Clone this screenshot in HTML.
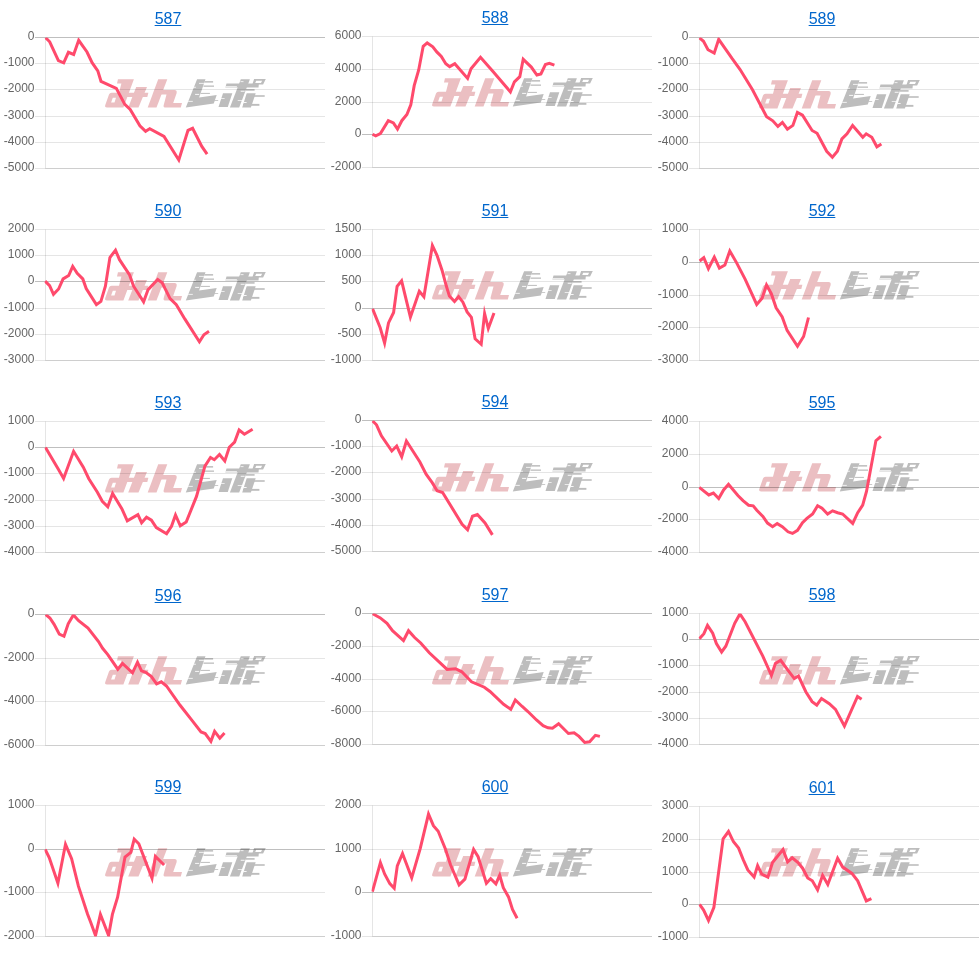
<!DOCTYPE html>
<html><head><meta charset="utf-8"><style>
html,body{margin:0;padding:0;background:#fff;}
body{width:979px;height:958px;position:relative;overflow:hidden;font-family:"Liberation Sans",sans-serif;}
svg text{font-family:"Liberation Sans",sans-serif;font-size:12px;fill:#666;}
.t{will-change:transform;position:absolute;width:120px;text-align:center;font-size:16px;line-height:19px;}
.t a{color:#0066cc;text-decoration:underline;}
</style></head><body>
<svg width="979" height="958" viewBox="0 0 979 958" style="position:absolute;left:0;top:0;will-change:transform"><defs><g id="wm" transform="translate(103,77)">
<g fill="#ebbfc2">
<path d="M14.95,2.2 L30.9,2.2 L20.4,30.4 L4.0,30.4 Q1.6,30.4 2.2,28.2 L6.0,17.5 Q6.7,15.7 8.6,15.7 L16.0,15.7 L18.4,6.6 L14.0,6.6 Z M9.8,20.8 L13.0,20.8 L11.5,25.5 L8.1,25.5 Z" fill-rule="evenodd"/>
<path d="M22.0,15.7 L45.4,15.7 L44.3,19.9 L20.6,19.9 Z"/>
<path d="M33.2,10.05 L44.0,10.05 L35.5,30.4 L25.2,30.4 Z"/>
<path d="M55.2,2.2 L64.3,2.2 L53.5,30.4 L44.7,30.4 Z"/>
<path d="M58.1,13.0 L71.4,13.0 Q74.3,13.0 73.6,16.2 L70.2,26.0 L79.0,26.0 L77.8,30.4 L62.6,30.4 Q60.2,30.4 60.6,28.4 L63.5,17.4 L56.4,17.4 Z"/>
</g>
<g fill="#bdbdbd">
<path d="M94.1,2.2 L102.5,2.2 L96.1,20.55 L113.7,18.1 L110.8,26.4 L82.8,30.4 Z"/>
<rect x="101.5" y="4.1" width="8.6" height="1.5"/>
<rect x="100.5" y="8.5" width="10.5" height="1.3"/>
<rect x="97.6" y="15.9" width="9.3" height="1.0"/>
<rect x="111.3" y="23.0" width="3.9" height="0.8"/>
<path d="M137.8,2.25 L146.9,2.25 L136.2,30.4 L126.9,30.4 Z"/>
<path d="M123.5,6.5 L155.9,6.5 L155.5,10.5 L122.4,10.5 Z"/>
<path d="M120.0,16.3 L129.3,16.3 L124.8,29.9 L115.5,29.9 Z"/>
<path d="M143.7,16.3 L152.7,16.3 L147.9,30.4 L139.2,30.4 Z"/>
<rect x="143.7" y="18.2" width="18" height="1.6"/>
<path d="M151.1,2.0 L162.8,2.0 L160.1,7.6 L149.3,7.6 Z M153.2,3.8 L159.1,3.8 L158.0,5.97 L152.2,5.97 Z" fill-rule="evenodd"/>
<rect x="142.6" y="12.1" width="9" height="1.6"/>
<rect x="140.0" y="26.9" width="16.4" height="1.9"/>
</g>
<g fill="#fff">
<rect x="90.3" y="9.8" width="2.6" height="0.8"/>
<rect x="96.0" y="5.9" width="4.9" height="0.8"/>
<rect x="92.1" y="16.9" width="4.1" height="0.9"/>
<rect x="85.2" y="23.9" width="4.6" height="0.8"/>
<rect x="122.4" y="9.3" width="11.5" height="0.9"/>
<rect x="137.5" y="4.3" width="3.0" height="0.8"/>
<rect x="137.7" y="13.8" width="3.9" height="0.9"/>
<rect x="118.1" y="21.2" width="3.5" height="0.7"/>
<rect x="134.7" y="23.0" width="4.3" height="0.7"/>
<rect x="140.5" y="25.0" width="3.1" height="0.9"/>
</g>
</g>
</defs><use href="#wm" x="0" y="0"/><line x1="35" y1="63.5" x2="325" y2="63.5" stroke="rgba(0,0,0,0.1)" stroke-width="1"/><line x1="35" y1="89.5" x2="325" y2="89.5" stroke="rgba(0,0,0,0.1)" stroke-width="1"/><line x1="35" y1="116.5" x2="325" y2="116.5" stroke="rgba(0,0,0,0.1)" stroke-width="1"/><line x1="35" y1="142.5" x2="325" y2="142.5" stroke="rgba(0,0,0,0.1)" stroke-width="1"/><line x1="35" y1="168.5" x2="325" y2="168.5" stroke="rgba(0,0,0,0.1)" stroke-width="1"/><line x1="45.5" y1="37.5" x2="45.5" y2="168.5" stroke="rgba(0,0,0,0.1)" stroke-width="1"/><line x1="45.5" y1="168.5" x2="325" y2="168.5" stroke="rgba(0,0,0,0.1)" stroke-width="1"/><line x1="35" y1="37.5" x2="325" y2="37.5" stroke="rgba(0,0,0,0.25)" stroke-width="1"/><text x="34.5" y="40.0" text-anchor="end">0</text><text x="34.5" y="66.0" text-anchor="end">-1000</text><text x="34.5" y="92.0" text-anchor="end">-2000</text><text x="34.5" y="119.0" text-anchor="end">-3000</text><text x="34.5" y="145.0" text-anchor="end">-4000</text><text x="34.5" y="171.0" text-anchor="end">-5000</text><clipPath id="c587"><rect x="44.5" y="37.55" width="280.5" height="131.0"/></clipPath><polyline clip-path="url(#c587)" points="45.6,37.7 49.7,41.8 58.4,60.7 63.7,62.9 68.4,52.3 73.7,54.5 78.7,40.3 87.0,52.0 92.1,62.7 97.8,70.9 101.0,81.3 116.3,88.4 124.8,104.4 130.2,109.4 139.9,125.7 145.6,131.3 149.7,128.8 164.0,136.5 178.8,160.0 188.0,130.3 192.6,128.3 201.8,146.4 207.1,154.1" fill="none" stroke="#ff4a6c" stroke-width="3" stroke-linejoin="miter" stroke-miterlimit="10" stroke-linecap="butt"/><use href="#wm" x="327" y="-1"/><line x1="362" y1="36.5" x2="652" y2="36.5" stroke="rgba(0,0,0,0.1)" stroke-width="1"/><line x1="362" y1="69.5" x2="652" y2="69.5" stroke="rgba(0,0,0,0.1)" stroke-width="1"/><line x1="362" y1="102.5" x2="652" y2="102.5" stroke="rgba(0,0,0,0.1)" stroke-width="1"/><line x1="362" y1="167.5" x2="652" y2="167.5" stroke="rgba(0,0,0,0.1)" stroke-width="1"/><line x1="372.5" y1="36.5" x2="372.5" y2="167.5" stroke="rgba(0,0,0,0.1)" stroke-width="1"/><line x1="372.5" y1="167.5" x2="652" y2="167.5" stroke="rgba(0,0,0,0.1)" stroke-width="1"/><text x="361.5" y="39.0" text-anchor="end">6000</text><text x="361.5" y="72.0" text-anchor="end">4000</text><text x="361.5" y="105.0" text-anchor="end">2000</text><line x1="362" y1="134.5" x2="652" y2="134.5" stroke="rgba(0,0,0,0.25)" stroke-width="1"/><text x="361.5" y="137.0" text-anchor="end">0</text><text x="361.5" y="170.0" text-anchor="end">-2000</text><clipPath id="c588"><rect x="371.5" y="36.55" width="280.5" height="131.0"/></clipPath><polyline clip-path="url(#c588)" points="372.5,134.2 375.7,135.9 380.4,133.6 388.3,120.7 393.4,122.9 397.5,129.1 401.8,120.7 406.9,114.5 410.8,104.9 414.2,85.7 418.7,70.0 423.2,46.3 427.2,42.9 432.8,46.8 436.8,51.9 441.3,56.4 445.8,63.7 449.7,66.6 454.8,63.7 467.6,78.4 471.0,68.8 480.5,57.2 493.0,71.5 510.4,91.9 514.4,81.8 519.8,76.7 523.2,59.3 531.3,67.1 536.9,75.0 540.9,73.9 545.4,64.5 549.3,63.4 554.4,65.2" fill="none" stroke="#ff4a6c" stroke-width="3" stroke-linejoin="miter" stroke-miterlimit="10" stroke-linecap="butt"/><use href="#wm" x="654" y="1"/><line x1="689" y1="63.5" x2="979" y2="63.5" stroke="rgba(0,0,0,0.1)" stroke-width="1"/><line x1="689" y1="89.5" x2="979" y2="89.5" stroke="rgba(0,0,0,0.1)" stroke-width="1"/><line x1="689" y1="116.5" x2="979" y2="116.5" stroke="rgba(0,0,0,0.1)" stroke-width="1"/><line x1="689" y1="142.5" x2="979" y2="142.5" stroke="rgba(0,0,0,0.1)" stroke-width="1"/><line x1="689" y1="168.5" x2="979" y2="168.5" stroke="rgba(0,0,0,0.1)" stroke-width="1"/><line x1="699.5" y1="37.5" x2="699.5" y2="168.5" stroke="rgba(0,0,0,0.1)" stroke-width="1"/><line x1="699.5" y1="168.5" x2="979" y2="168.5" stroke="rgba(0,0,0,0.1)" stroke-width="1"/><line x1="689" y1="37.5" x2="979" y2="37.5" stroke="rgba(0,0,0,0.25)" stroke-width="1"/><text x="688.5" y="40.0" text-anchor="end">0</text><text x="688.5" y="66.0" text-anchor="end">-1000</text><text x="688.5" y="92.0" text-anchor="end">-2000</text><text x="688.5" y="119.0" text-anchor="end">-3000</text><text x="688.5" y="145.0" text-anchor="end">-4000</text><text x="688.5" y="171.0" text-anchor="end">-5000</text><clipPath id="c589"><rect x="698.5" y="37.55" width="280.5" height="131.0"/></clipPath><polyline clip-path="url(#c589)" points="699.5,37.9 703.5,41.3 708.0,49.7 714.2,53.1 718.7,39.3 732.2,58.7 740.1,69.5 752.5,89.8 766.6,116.8 772.8,120.8 777.9,126.4 782.4,122.4 787.4,129.2 792.9,125.4 797.4,112.4 802.5,115.2 812.1,130.5 817.1,133.3 826.7,151.3 832.4,157.2 837.4,151.3 841.9,138.9 847.0,133.8 852.6,125.4 862.8,137.2 866.2,133.8 871.8,137.2 876.9,146.8 881.4,144.0" fill="none" stroke="#ff4a6c" stroke-width="3" stroke-linejoin="miter" stroke-miterlimit="10" stroke-linecap="butt"/><use href="#wm" x="0" y="193"/><line x1="35" y1="229.5" x2="325" y2="229.5" stroke="rgba(0,0,0,0.1)" stroke-width="1"/><line x1="35" y1="255.5" x2="325" y2="255.5" stroke="rgba(0,0,0,0.1)" stroke-width="1"/><line x1="35" y1="308.5" x2="325" y2="308.5" stroke="rgba(0,0,0,0.1)" stroke-width="1"/><line x1="35" y1="334.5" x2="325" y2="334.5" stroke="rgba(0,0,0,0.1)" stroke-width="1"/><line x1="35" y1="360.5" x2="325" y2="360.5" stroke="rgba(0,0,0,0.1)" stroke-width="1"/><line x1="45.5" y1="229.5" x2="45.5" y2="360.5" stroke="rgba(0,0,0,0.1)" stroke-width="1"/><line x1="45.5" y1="360.5" x2="325" y2="360.5" stroke="rgba(0,0,0,0.1)" stroke-width="1"/><text x="34.5" y="232.0" text-anchor="end">2000</text><text x="34.5" y="258.0" text-anchor="end">1000</text><line x1="35" y1="281.5" x2="325" y2="281.5" stroke="rgba(0,0,0,0.25)" stroke-width="1"/><text x="34.5" y="284.0" text-anchor="end">0</text><text x="34.5" y="311.0" text-anchor="end">-1000</text><text x="34.5" y="337.0" text-anchor="end">-2000</text><text x="34.5" y="363.0" text-anchor="end">-3000</text><clipPath id="c590"><rect x="44.5" y="229.55" width="280.5" height="131.0"/></clipPath><polyline clip-path="url(#c590)" points="45.1,281.1 49.6,285.7 53.5,294.4 58.6,289.0 63.1,278.9 68.7,275.5 72.7,266.3 77.2,273.3 82.8,278.9 86.2,288.5 96.4,304.6 100.9,301.4 105.4,286.2 109.9,257.5 115.5,250.2 119.5,259.7 129.6,275.0 133.6,286.2 143.6,301.8 148.1,289.6 157.7,279.5 162.2,282.8 170.1,298.6 176.3,304.8 184.8,318.9 199.4,341.8 203.9,334.7 209.0,331.3" fill="none" stroke="#ff4a6c" stroke-width="3" stroke-linejoin="miter" stroke-miterlimit="10" stroke-linecap="butt"/><use href="#wm" x="327" y="192"/><line x1="362" y1="229.5" x2="652" y2="229.5" stroke="rgba(0,0,0,0.1)" stroke-width="1"/><line x1="362" y1="255.5" x2="652" y2="255.5" stroke="rgba(0,0,0,0.1)" stroke-width="1"/><line x1="362" y1="281.5" x2="652" y2="281.5" stroke="rgba(0,0,0,0.1)" stroke-width="1"/><line x1="362" y1="334.5" x2="652" y2="334.5" stroke="rgba(0,0,0,0.1)" stroke-width="1"/><line x1="362" y1="360.5" x2="652" y2="360.5" stroke="rgba(0,0,0,0.1)" stroke-width="1"/><line x1="372.5" y1="229.5" x2="372.5" y2="360.5" stroke="rgba(0,0,0,0.1)" stroke-width="1"/><line x1="372.5" y1="360.5" x2="652" y2="360.5" stroke="rgba(0,0,0,0.1)" stroke-width="1"/><text x="361.5" y="232.0" text-anchor="end">1500</text><text x="361.5" y="258.0" text-anchor="end">1000</text><text x="361.5" y="284.0" text-anchor="end">500</text><line x1="362" y1="308.5" x2="652" y2="308.5" stroke="rgba(0,0,0,0.25)" stroke-width="1"/><text x="361.5" y="311.0" text-anchor="end">0</text><text x="361.5" y="337.0" text-anchor="end">-500</text><text x="361.5" y="363.0" text-anchor="end">-1000</text><clipPath id="c591"><rect x="371.5" y="229.55" width="280.5" height="131.0"/></clipPath><polyline clip-path="url(#c591)" points="372.6,308.9 380.2,327.8 384.6,343.1 388.5,322.9 393.6,312.5 397.1,286.3 401.6,280.8 410.4,317.2 419.3,291.2 423.9,296.7 432.4,245.5 437.1,255.5 442.1,270.4 446.4,286.3 449.4,296.1 454.5,301.5 458.6,296.7 462.9,302.2 467.1,311.9 471.4,317.4 475.1,338.8 481.2,344.3 484.6,313.5 488.3,328.5 494.0,313.1" fill="none" stroke="#ff4a6c" stroke-width="3" stroke-linejoin="miter" stroke-miterlimit="10" stroke-linecap="butt"/><use href="#wm" x="654" y="192"/><line x1="689" y1="229.5" x2="979" y2="229.5" stroke="rgba(0,0,0,0.1)" stroke-width="1"/><line x1="689" y1="295.5" x2="979" y2="295.5" stroke="rgba(0,0,0,0.1)" stroke-width="1"/><line x1="689" y1="327.5" x2="979" y2="327.5" stroke="rgba(0,0,0,0.1)" stroke-width="1"/><line x1="689" y1="360.5" x2="979" y2="360.5" stroke="rgba(0,0,0,0.1)" stroke-width="1"/><line x1="699.5" y1="229.5" x2="699.5" y2="360.5" stroke="rgba(0,0,0,0.1)" stroke-width="1"/><line x1="699.5" y1="360.5" x2="979" y2="360.5" stroke="rgba(0,0,0,0.1)" stroke-width="1"/><text x="688.5" y="232.0" text-anchor="end">1000</text><line x1="689" y1="262.5" x2="979" y2="262.5" stroke="rgba(0,0,0,0.25)" stroke-width="1"/><text x="688.5" y="265.0" text-anchor="end">0</text><text x="688.5" y="298.0" text-anchor="end">-1000</text><text x="688.5" y="330.0" text-anchor="end">-2000</text><text x="688.5" y="363.0" text-anchor="end">-3000</text><clipPath id="c592"><rect x="698.5" y="229.55" width="280.5" height="131.0"/></clipPath><polyline clip-path="url(#c592)" points="699.6,261.0 703.8,257.7 708.4,268.7 714.3,257.1 719.4,268.1 724.9,265.0 729.8,251.0 736.5,262.6 745.1,279.1 756.7,304.4 762.1,298.2 766.5,284.9 771.3,293.7 776.1,307.8 782.2,316.9 787.1,330.4 797.5,346.2 803.6,336.5 808.5,317.5" fill="none" stroke="#ff4a6c" stroke-width="3" stroke-linejoin="miter" stroke-miterlimit="10" stroke-linecap="butt"/><use href="#wm" x="0" y="385"/><line x1="35" y1="421.5" x2="325" y2="421.5" stroke="rgba(0,0,0,0.1)" stroke-width="1"/><line x1="35" y1="473.5" x2="325" y2="473.5" stroke="rgba(0,0,0,0.1)" stroke-width="1"/><line x1="35" y1="500.5" x2="325" y2="500.5" stroke="rgba(0,0,0,0.1)" stroke-width="1"/><line x1="35" y1="526.5" x2="325" y2="526.5" stroke="rgba(0,0,0,0.1)" stroke-width="1"/><line x1="35" y1="552.5" x2="325" y2="552.5" stroke="rgba(0,0,0,0.1)" stroke-width="1"/><line x1="45.5" y1="421.5" x2="45.5" y2="552.5" stroke="rgba(0,0,0,0.1)" stroke-width="1"/><line x1="45.5" y1="552.5" x2="325" y2="552.5" stroke="rgba(0,0,0,0.1)" stroke-width="1"/><text x="34.5" y="424.0" text-anchor="end">1000</text><line x1="35" y1="447.5" x2="325" y2="447.5" stroke="rgba(0,0,0,0.25)" stroke-width="1"/><text x="34.5" y="450.0" text-anchor="end">0</text><text x="34.5" y="476.0" text-anchor="end">-1000</text><text x="34.5" y="503.0" text-anchor="end">-2000</text><text x="34.5" y="529.0" text-anchor="end">-3000</text><text x="34.5" y="555.0" text-anchor="end">-4000</text><clipPath id="c593"><rect x="44.5" y="421.55" width="280.5" height="131.0"/></clipPath><polyline clip-path="url(#c593)" points="45.5,447.6 58.8,470.0 63.6,478.5 73.6,451.3 83.3,467.1 88.8,478.7 97.4,492.2 102.3,501.3 107.8,506.8 112.6,493.4 121.8,508.6 127.3,520.8 137.9,514.7 141.6,522.7 146.5,517.2 151.4,520.2 156.3,527.6 166.6,533.7 171.5,526.3 175.5,515.0 180.3,525.8 186.2,522.1 196.5,496.4 204.9,466.1 210.5,457.5 214.3,459.7 219.5,454.5 224.8,460.9 229.3,447.3 234.6,442.1 239.1,430.0 244.4,434.2 252.6,429.3" fill="none" stroke="#ff4a6c" stroke-width="3" stroke-linejoin="miter" stroke-miterlimit="10" stroke-linecap="butt"/><use href="#wm" x="327" y="384"/><line x1="362" y1="446.5" x2="652" y2="446.5" stroke="rgba(0,0,0,0.1)" stroke-width="1"/><line x1="362" y1="472.5" x2="652" y2="472.5" stroke="rgba(0,0,0,0.1)" stroke-width="1"/><line x1="362" y1="499.5" x2="652" y2="499.5" stroke="rgba(0,0,0,0.1)" stroke-width="1"/><line x1="362" y1="525.5" x2="652" y2="525.5" stroke="rgba(0,0,0,0.1)" stroke-width="1"/><line x1="362" y1="551.5" x2="652" y2="551.5" stroke="rgba(0,0,0,0.1)" stroke-width="1"/><line x1="372.5" y1="420.5" x2="372.5" y2="551.5" stroke="rgba(0,0,0,0.1)" stroke-width="1"/><line x1="372.5" y1="551.5" x2="652" y2="551.5" stroke="rgba(0,0,0,0.1)" stroke-width="1"/><line x1="362" y1="420.5" x2="652" y2="420.5" stroke="rgba(0,0,0,0.25)" stroke-width="1"/><text x="361.5" y="423.0" text-anchor="end">0</text><text x="361.5" y="449.0" text-anchor="end">-1000</text><text x="361.5" y="475.0" text-anchor="end">-2000</text><text x="361.5" y="502.0" text-anchor="end">-3000</text><text x="361.5" y="528.0" text-anchor="end">-4000</text><text x="361.5" y="554.0" text-anchor="end">-5000</text><clipPath id="c594"><rect x="371.5" y="420.55" width="280.5" height="131.0"/></clipPath><polyline clip-path="url(#c594)" points="372.6,421.0 376.5,424.8 381.4,435.8 391.8,451.0 396.7,446.0 401.7,456.7 406.4,441.0 419.9,462.0 426.1,474.2 432.2,482.7 437.1,490.7 442.6,492.5 462.1,524.2 467.6,529.7 472.5,516.3 477.4,514.6 485.0,523.0 492.4,534.9" fill="none" stroke="#ff4a6c" stroke-width="3" stroke-linejoin="miter" stroke-miterlimit="10" stroke-linecap="butt"/><use href="#wm" x="654" y="384"/><line x1="689" y1="421.5" x2="979" y2="421.5" stroke="rgba(0,0,0,0.1)" stroke-width="1"/><line x1="689" y1="454.5" x2="979" y2="454.5" stroke="rgba(0,0,0,0.1)" stroke-width="1"/><line x1="689" y1="519.5" x2="979" y2="519.5" stroke="rgba(0,0,0,0.1)" stroke-width="1"/><line x1="689" y1="552.5" x2="979" y2="552.5" stroke="rgba(0,0,0,0.1)" stroke-width="1"/><line x1="699.5" y1="421.5" x2="699.5" y2="552.5" stroke="rgba(0,0,0,0.1)" stroke-width="1"/><line x1="699.5" y1="552.5" x2="979" y2="552.5" stroke="rgba(0,0,0,0.1)" stroke-width="1"/><text x="688.5" y="424.0" text-anchor="end">4000</text><text x="688.5" y="457.0" text-anchor="end">2000</text><line x1="689" y1="487.5" x2="979" y2="487.5" stroke="rgba(0,0,0,0.25)" stroke-width="1"/><text x="688.5" y="490.0" text-anchor="end">0</text><text x="688.5" y="522.0" text-anchor="end">-2000</text><text x="688.5" y="555.0" text-anchor="end">-4000</text><clipPath id="c595"><rect x="698.5" y="421.55" width="280.5" height="131.0"/></clipPath><polyline clip-path="url(#c595)" points="699.3,487.4 708.8,495.0 713.4,493.0 718.7,498.6 723.6,489.9 728.5,484.3 737.9,495.5 743.0,500.6 748.6,505.2 753.2,505.8 756.8,510.3 762.9,516.5 767.5,523.1 772.6,526.7 777.2,523.6 782.3,526.7 788.0,531.8 792.5,533.4 797.5,530.3 802.5,522.7 806.9,518.4 812.6,514.0 817.6,505.8 822.0,508.3 827.6,514.0 832.6,510.8 837.6,512.7 842.6,514.0 852.7,523.4 857.7,512.7 862.7,505.2 866.5,491.4 875.9,440.7 880.9,436.3" fill="none" stroke="#ff4a6c" stroke-width="3" stroke-linejoin="miter" stroke-miterlimit="10" stroke-linecap="butt"/><use href="#wm" x="0" y="577"/><line x1="35" y1="658.5" x2="325" y2="658.5" stroke="rgba(0,0,0,0.1)" stroke-width="1"/><line x1="35" y1="701.5" x2="325" y2="701.5" stroke="rgba(0,0,0,0.1)" stroke-width="1"/><line x1="35" y1="745.5" x2="325" y2="745.5" stroke="rgba(0,0,0,0.1)" stroke-width="1"/><line x1="45.5" y1="614.5" x2="45.5" y2="745.5" stroke="rgba(0,0,0,0.1)" stroke-width="1"/><line x1="45.5" y1="745.5" x2="325" y2="745.5" stroke="rgba(0,0,0,0.1)" stroke-width="1"/><line x1="35" y1="614.5" x2="325" y2="614.5" stroke="rgba(0,0,0,0.25)" stroke-width="1"/><text x="34.5" y="617.0" text-anchor="end">0</text><text x="34.5" y="661.0" text-anchor="end">-2000</text><text x="34.5" y="704.0" text-anchor="end">-4000</text><text x="34.5" y="748.0" text-anchor="end">-6000</text><clipPath id="c596"><rect x="44.5" y="614.55" width="280.5" height="131.0"/></clipPath><polyline clip-path="url(#c596)" points="45.7,614.6 49.9,618.0 54.1,624.3 59.3,634.2 64.0,636.3 68.2,623.8 73.4,614.9 78.6,620.7 88.0,628.0 98.5,641.5 102.6,648.3 107.8,654.6 117.8,669.2 122.5,663.5 132.5,672.8 137.5,662.2 141.5,670.9 145.7,672.4 151.4,676.6 156.6,683.9 161.3,681.8 166.5,686.0 180.1,705.3 191.6,719.9 201.0,731.9 205.2,733.5 210.9,741.3 214.6,731.4 219.8,738.2 224.5,733.0" fill="none" stroke="#ff4a6c" stroke-width="3" stroke-linejoin="miter" stroke-miterlimit="10" stroke-linecap="butt"/><use href="#wm" x="327" y="577"/><line x1="362" y1="646.5" x2="652" y2="646.5" stroke="rgba(0,0,0,0.1)" stroke-width="1"/><line x1="362" y1="679.5" x2="652" y2="679.5" stroke="rgba(0,0,0,0.1)" stroke-width="1"/><line x1="362" y1="711.5" x2="652" y2="711.5" stroke="rgba(0,0,0,0.1)" stroke-width="1"/><line x1="362" y1="744.5" x2="652" y2="744.5" stroke="rgba(0,0,0,0.1)" stroke-width="1"/><line x1="372.5" y1="613.5" x2="372.5" y2="744.5" stroke="rgba(0,0,0,0.1)" stroke-width="1"/><line x1="372.5" y1="744.5" x2="652" y2="744.5" stroke="rgba(0,0,0,0.1)" stroke-width="1"/><line x1="362" y1="613.5" x2="652" y2="613.5" stroke="rgba(0,0,0,0.25)" stroke-width="1"/><text x="361.5" y="616.0" text-anchor="end">0</text><text x="361.5" y="649.0" text-anchor="end">-2000</text><text x="361.5" y="682.0" text-anchor="end">-4000</text><text x="361.5" y="714.0" text-anchor="end">-6000</text><text x="361.5" y="747.0" text-anchor="end">-8000</text><clipPath id="c597"><rect x="371.5" y="613.55" width="280.5" height="131.0"/></clipPath><polyline clip-path="url(#c597)" points="372.7,613.8 380.3,617.9 387.0,623.4 392.5,630.7 403.5,640.5 408.5,630.7 414.6,637.5 420.7,643.0 429.3,652.8 447.1,669.4 455.6,668.7 461.8,671.8 471.5,681.8 484.3,687.2 490.0,691.5 503.6,704.3 510.8,709.3 515.3,700.0 522.2,706.5 527.9,711.5 536.5,720.0 543.1,725.7 548.0,727.8 552.5,728.2 558.6,723.7 568.4,733.5 574.1,732.7 579.0,736.4 584.7,742.5 589.6,741.8 595.4,735.3 599.9,736.4" fill="none" stroke="#ff4a6c" stroke-width="3" stroke-linejoin="miter" stroke-miterlimit="10" stroke-linecap="butt"/><use href="#wm" x="654" y="577"/><line x1="689" y1="613.5" x2="979" y2="613.5" stroke="rgba(0,0,0,0.1)" stroke-width="1"/><line x1="689" y1="665.5" x2="979" y2="665.5" stroke="rgba(0,0,0,0.1)" stroke-width="1"/><line x1="689" y1="692.5" x2="979" y2="692.5" stroke="rgba(0,0,0,0.1)" stroke-width="1"/><line x1="689" y1="718.5" x2="979" y2="718.5" stroke="rgba(0,0,0,0.1)" stroke-width="1"/><line x1="689" y1="744.5" x2="979" y2="744.5" stroke="rgba(0,0,0,0.1)" stroke-width="1"/><line x1="699.5" y1="613.5" x2="699.5" y2="744.5" stroke="rgba(0,0,0,0.1)" stroke-width="1"/><line x1="699.5" y1="744.5" x2="979" y2="744.5" stroke="rgba(0,0,0,0.1)" stroke-width="1"/><text x="688.5" y="616.0" text-anchor="end">1000</text><line x1="689" y1="639.5" x2="979" y2="639.5" stroke="rgba(0,0,0,0.25)" stroke-width="1"/><text x="688.5" y="642.0" text-anchor="end">0</text><text x="688.5" y="668.0" text-anchor="end">-1000</text><text x="688.5" y="695.0" text-anchor="end">-2000</text><text x="688.5" y="721.0" text-anchor="end">-3000</text><text x="688.5" y="747.0" text-anchor="end">-4000</text><clipPath id="c598"><rect x="698.5" y="613.55" width="280.5" height="131.0"/></clipPath><polyline clip-path="url(#c598)" points="699.4,638.8 703.9,633.7 707.5,625.4 712.7,633.2 716.4,643.6 721.6,652.0 725.8,646.2 734.7,623.3 739.9,613.9 745.1,621.7 762.8,656.1 771.4,675.4 775.4,663.5 780.7,660.3 787.5,669.7 794.3,678.6 798.5,676.0 805.8,691.7 812.1,701.6 816.8,705.2 821.5,698.5 829.3,703.7 835.5,709.4 844.4,726.0 857.5,696.4 861.6,699.2" fill="none" stroke="#ff4a6c" stroke-width="3" stroke-linejoin="miter" stroke-miterlimit="10" stroke-linecap="butt"/><use href="#wm" x="0" y="769"/><line x1="35" y1="805.5" x2="325" y2="805.5" stroke="rgba(0,0,0,0.1)" stroke-width="1"/><line x1="35" y1="892.5" x2="325" y2="892.5" stroke="rgba(0,0,0,0.1)" stroke-width="1"/><line x1="35" y1="936.5" x2="325" y2="936.5" stroke="rgba(0,0,0,0.1)" stroke-width="1"/><line x1="45.5" y1="805.5" x2="45.5" y2="936.5" stroke="rgba(0,0,0,0.1)" stroke-width="1"/><line x1="45.5" y1="936.5" x2="325" y2="936.5" stroke="rgba(0,0,0,0.1)" stroke-width="1"/><text x="34.5" y="808.0" text-anchor="end">1000</text><line x1="35" y1="849.5" x2="325" y2="849.5" stroke="rgba(0,0,0,0.25)" stroke-width="1"/><text x="34.5" y="852.0" text-anchor="end">0</text><text x="34.5" y="895.0" text-anchor="end">-1000</text><text x="34.5" y="939.0" text-anchor="end">-2000</text><clipPath id="c599"><rect x="44.5" y="805.55" width="280.5" height="131.0"/></clipPath><polyline clip-path="url(#c599)" points="45.2,849.5 49.2,857.5 57.9,883.2 65.5,844.3 71.6,858.7 78.4,886.2 87.6,914.3 90.5,921.8 95.5,935.5 100.4,914.4 108.6,935.5 112.4,914.4 117.6,897.2 125.0,857.0 130.8,852.4 134.2,839.2 138.8,843.8 152.0,878.2 155.4,856.4 164.1,865.0" fill="none" stroke="#ff4a6c" stroke-width="3" stroke-linejoin="miter" stroke-miterlimit="10" stroke-linecap="butt"/><use href="#wm" x="327" y="769"/><line x1="362" y1="805.5" x2="652" y2="805.5" stroke="rgba(0,0,0,0.1)" stroke-width="1"/><line x1="362" y1="849.5" x2="652" y2="849.5" stroke="rgba(0,0,0,0.1)" stroke-width="1"/><line x1="362" y1="936.5" x2="652" y2="936.5" stroke="rgba(0,0,0,0.1)" stroke-width="1"/><line x1="372.5" y1="805.5" x2="372.5" y2="936.5" stroke="rgba(0,0,0,0.1)" stroke-width="1"/><line x1="372.5" y1="936.5" x2="652" y2="936.5" stroke="rgba(0,0,0,0.1)" stroke-width="1"/><text x="361.5" y="808.0" text-anchor="end">2000</text><text x="361.5" y="852.0" text-anchor="end">1000</text><line x1="362" y1="892.5" x2="652" y2="892.5" stroke="rgba(0,0,0,0.25)" stroke-width="1"/><text x="361.5" y="895.0" text-anchor="end">0</text><text x="361.5" y="939.0" text-anchor="end">-1000</text><clipPath id="c600"><rect x="371.5" y="805.55" width="280.5" height="131.0"/></clipPath><polyline clip-path="url(#c600)" points="372.4,891.7 380.4,862.6 384.6,873.9 389.8,883.6 394.2,888.2 397.3,865.8 402.5,853.5 411.7,877.8 420.2,848.6 428.5,814.1 433.4,825.7 438.2,831.2 445.3,848.7 450.5,864.8 459.1,884.9 464.9,879.1 473.6,849.4 478.1,856.7 486.4,883.4 490.7,878.6 495.9,883.8 499.7,875.1 503.3,887.7 508.5,896.9 512.5,909.5 517.1,918.2" fill="none" stroke="#ff4a6c" stroke-width="3" stroke-linejoin="miter" stroke-miterlimit="10" stroke-linecap="butt"/><use href="#wm" x="654" y="769"/><line x1="689" y1="806.5" x2="979" y2="806.5" stroke="rgba(0,0,0,0.1)" stroke-width="1"/><line x1="689" y1="839.5" x2="979" y2="839.5" stroke="rgba(0,0,0,0.1)" stroke-width="1"/><line x1="689" y1="872.5" x2="979" y2="872.5" stroke="rgba(0,0,0,0.1)" stroke-width="1"/><line x1="689" y1="937.5" x2="979" y2="937.5" stroke="rgba(0,0,0,0.1)" stroke-width="1"/><line x1="699.5" y1="806.5" x2="699.5" y2="937.5" stroke="rgba(0,0,0,0.1)" stroke-width="1"/><line x1="699.5" y1="937.5" x2="979" y2="937.5" stroke="rgba(0,0,0,0.1)" stroke-width="1"/><text x="688.5" y="809.0" text-anchor="end">3000</text><text x="688.5" y="842.0" text-anchor="end">2000</text><text x="688.5" y="875.0" text-anchor="end">1000</text><line x1="689" y1="904.5" x2="979" y2="904.5" stroke="rgba(0,0,0,0.25)" stroke-width="1"/><text x="688.5" y="907.0" text-anchor="end">0</text><text x="688.5" y="940.0" text-anchor="end">-1000</text><clipPath id="c601"><rect x="698.5" y="806.55" width="280.5" height="131.0"/></clipPath><polyline clip-path="url(#c601)" points="699.6,904.4 703.6,910.1 708.5,920.5 713.9,907.3 723.1,838.9 728.5,831.5 733.5,841.8 738.6,848.1 743.2,859.6 747.8,869.9 754.1,877.1 757.6,865.7 761.6,874.0 767.9,877.2 772.5,862.5 783.0,849.6 787.6,861.9 792.2,857.8 798.0,862.5 802.6,868.2 807.7,878.0 812.3,880.8 817.6,890.0 822.6,875.3 827.8,884.5 837.6,858.2 842.7,867.1 851.9,873.4 857.7,880.8 866.3,900.9 871.4,898.6" fill="none" stroke="#ff4a6c" stroke-width="3" stroke-linejoin="miter" stroke-miterlimit="10" stroke-linecap="butt"/></svg>
<div class="t" style="left:108.3px;top:9px"><a>587</a></div><div class="t" style="left:435.3px;top:8px"><a>588</a></div><div class="t" style="left:762.3px;top:9px"><a>589</a></div><div class="t" style="left:108.3px;top:201px"><a>590</a></div><div class="t" style="left:435.3px;top:201px"><a>591</a></div><div class="t" style="left:762.3px;top:201px"><a>592</a></div><div class="t" style="left:108.3px;top:393px"><a>593</a></div><div class="t" style="left:435.3px;top:392px"><a>594</a></div><div class="t" style="left:762.3px;top:393px"><a>595</a></div><div class="t" style="left:108.3px;top:586px"><a>596</a></div><div class="t" style="left:435.3px;top:585px"><a>597</a></div><div class="t" style="left:762.3px;top:585px"><a>598</a></div><div class="t" style="left:108.3px;top:777px"><a>599</a></div><div class="t" style="left:435.3px;top:777px"><a>600</a></div><div class="t" style="left:762.3px;top:778px"><a>601</a></div>
</body></html>
